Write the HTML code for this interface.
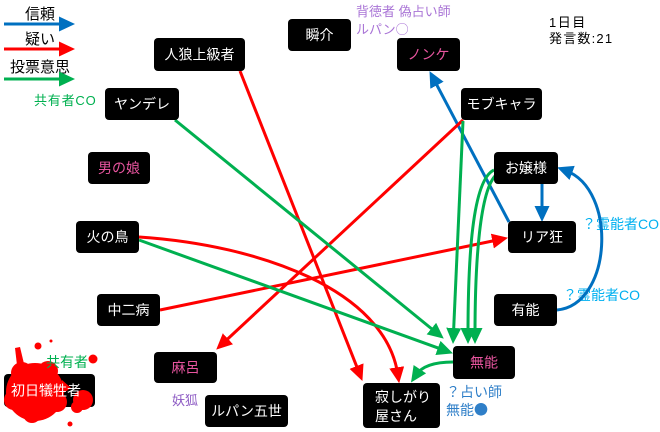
<!DOCTYPE html>
<html><head><meta charset="utf-8"><style>
html,body{margin:0;padding:0;background:#fff;}
svg{display:block;}
text{font-family:"Liberation Sans","Noto Sans CJK JP",sans-serif;}
.cjk{font-family:"Noto Sans CJK JP",sans-serif;}
.n{fill:#000;}
.t{fill:#fff;font-size:14px;text-anchor:middle;dominant-baseline:central;}
.p{fill:#e8559f;font-size:14px;text-anchor:middle;dominant-baseline:central;}
</style></head><body>
<svg width="660" height="432" viewBox="0 0 660 432" xmlns="http://www.w3.org/2000/svg">
<defs>
<marker id="ab" markerUnits="userSpaceOnUse" markerWidth="17" markerHeight="16" refX="7" refY="7.5" orient="auto"><path d="M0,0 L16,7.5 L0,15 z" fill="#0070c0"/></marker>
<marker id="ar" markerUnits="userSpaceOnUse" markerWidth="17" markerHeight="16" refX="7" refY="7.5" orient="auto"><path d="M0,0 L16,7.5 L0,15 z" fill="#ff0000"/></marker>
<marker id="ag" markerUnits="userSpaceOnUse" markerWidth="17" markerHeight="16" refX="7" refY="7.5" orient="auto"><path d="M0,0 L16,7.5 L0,15 z" fill="#00b050"/></marker>
</defs>

<!-- legend -->
<text x="25" y="19" font-size="15" fill="#000">信頼</text>
<line x1="4" y1="24" x2="66" y2="24" stroke="#0070c0" stroke-width="3" marker-end="url(#ab)"/>
<text x="25" y="44" font-size="15" fill="#000">疑い</text>
<line x1="4" y1="49" x2="66" y2="49" stroke="#ff0000" stroke-width="3" marker-end="url(#ar)"/>
<text x="10" y="72" font-size="15" fill="#000">投票意思</text>
<line x1="4" y1="79" x2="66" y2="79" stroke="#00b050" stroke-width="3" marker-end="url(#ag)"/>

<!-- labels -->
<text x="34" y="105" font-size="13" fill="#00b050" letter-spacing="0.8">共有者CO</text>
<text x="356" y="16" font-size="13" fill="#a974d6">背徳者 偽占い師</text>
<text x="356" y="34" font-size="13" fill="#a974d6">ルパン<tspan class="cjk">○</tspan></text>
<text x="549" y="27" font-size="13" fill="#000" letter-spacing="1.5">1日目</text>
<text x="549" y="43" font-size="13" fill="#000" letter-spacing="1.2">発言数:21</text>
<text x="582" y="229" font-size="14" fill="#00b0f0">？霊能者CO</text>
<text x="563" y="300" font-size="14" fill="#00b0f0">？霊能者CO</text>
<text x="446" y="397" font-size="14" fill="#2f7fc8">？占い師</text>
<text x="446" y="415" font-size="14" fill="#2f7fc8">無能<tspan class="cjk">●</tspan></text>
<text x="172" y="405" font-size="13" fill="#8e5cc4">妖狐</text>

<!-- connectors -->
<g fill="none" stroke-width="3">
<line x1="509" y1="222" x2="433.7" y2="79.1" stroke="#0070c0" marker-end="url(#ab)"/>
<line x1="542" y1="184" x2="542" y2="213" stroke="#0070c0" marker-end="url(#ab)"/>
<path d="M557,310 C612,305 618,190 565.6,170.5" stroke="#0070c0" marker-end="url(#ab)"/>

<line x1="240" y1="71" x2="359.1" y2="372.6" stroke="#ff0000" marker-end="url(#ar)"/>
<path d="M139,237 C260,245 385,290 397.8,374.3" stroke="#ff0000" marker-end="url(#ar)"/>
<line x1="463" y1="120" x2="222.8" y2="343.5" stroke="#ff0000" marker-end="url(#ar)"/>
<line x1="160" y1="310" x2="499.2" y2="239.6" stroke="#ff0000" marker-end="url(#ar)"/>

<line x1="175" y1="120" x2="436.8" y2="333" stroke="#00b050" marker-end="url(#ag)"/>
<line x1="139" y1="240" x2="444.5" y2="350.3" stroke="#00b050" marker-end="url(#ag)"/>
<line x1="463" y1="121" x2="453.4" y2="335" stroke="#00b050" marker-end="url(#ag)"/>
<path d="M494,170 C472,180 468,260 468,335" stroke="#00b050" marker-end="url(#ag)"/>
<path d="M496,175 C480,190 475,260 475,335" stroke="#00b050" marker-end="url(#ag)"/>
<path d="M453,362 C435,362 422,366 416,375" stroke="#00b050" marker-end="url(#ag)"/>
</g>

<!-- nodes -->
<rect class="n" x="154" y="38" width="91" height="33" rx="4"/><text class="t" x="199.5" y="54.5">人狼上級者</text>
<rect class="n" x="288" y="19" width="63" height="32" rx="4"/><text class="t" x="319.5" y="35">瞬介</text>
<rect class="n" x="397" y="38" width="63" height="33" rx="4"/><text class="p" x="428.5" y="54.5">ノンケ</text>
<rect class="n" x="461" y="88" width="81" height="32" rx="4"/><text class="t" x="501.5" y="104">モブキャラ</text>
<rect class="n" x="105" y="88" width="74" height="32" rx="4"/><text class="t" x="142" y="104">ヤンデレ</text>
<rect class="n" x="88" y="152" width="62" height="32" rx="4"/><text class="p" x="119" y="168">男の娘</text>
<rect class="n" x="76" y="221" width="63" height="32" rx="4"/><text class="t" x="107.5" y="237">火の鳥</text>
<rect class="n" x="97" y="294" width="63" height="32" rx="4"/><text class="t" x="128.5" y="310">中二病</text>
<rect class="n" x="494" y="152" width="64" height="32" rx="4"/><text class="t" x="526" y="168">お嬢様</text>
<rect class="n" x="508" y="221" width="68" height="32" rx="4"/><text class="t" x="542" y="237">リア狂</text>
<rect class="n" x="494" y="294" width="63" height="32" rx="4"/><text class="t" x="525.5" y="310">有能</text>
<rect class="n" x="453" y="346" width="62" height="33" rx="4"/><text class="p" x="484" y="362.5">無能</text>
<rect class="n" x="363" y="383" width="77" height="45" rx="4"/>
<text x="375" y="402" font-size="14" fill="#fff">寂しがり</text>
<text x="375" y="421" font-size="14" fill="#fff">屋さん</text>
<rect class="n" x="154" y="352" width="63" height="31" rx="4"/><text class="p" x="185.5" y="367.5">麻呂</text>
<rect class="n" x="205" y="395" width="83" height="32" rx="4"/><text class="t" x="246.5" y="411">ルパン五世</text>

<!-- victim -->
<rect class="n" x="4" y="374" width="91" height="33" rx="4"/>
<g fill="#ff0000">
<circle cx="35" cy="392" r="29"/>
<circle cx="22" cy="373" r="11"/>
<circle cx="48" cy="371" r="10"/>
<circle cx="14" cy="400" r="10"/>
<circle cx="57" cy="402" r="10"/>
<circle cx="32" cy="414" r="9"/>
<polygon points="15,348 20,347 26,372 18,374"/>
<polygon points="62,380 71,388 62,394"/>
<circle cx="83" cy="400" r="10"/>
<circle cx="77" cy="407" r="6"/>
<circle cx="38" cy="346" r="3.5"/>
<circle cx="51" cy="341" r="1.5"/>
<circle cx="93" cy="359" r="4.5"/>
<circle cx="70" cy="424" r="2.5"/>
</g>
<text class="t" x="46" y="390.5">初日犠牲者</text>
<text x="46" y="367" font-size="14" fill="#00b050">共有者</text>
</svg>
</body></html>
